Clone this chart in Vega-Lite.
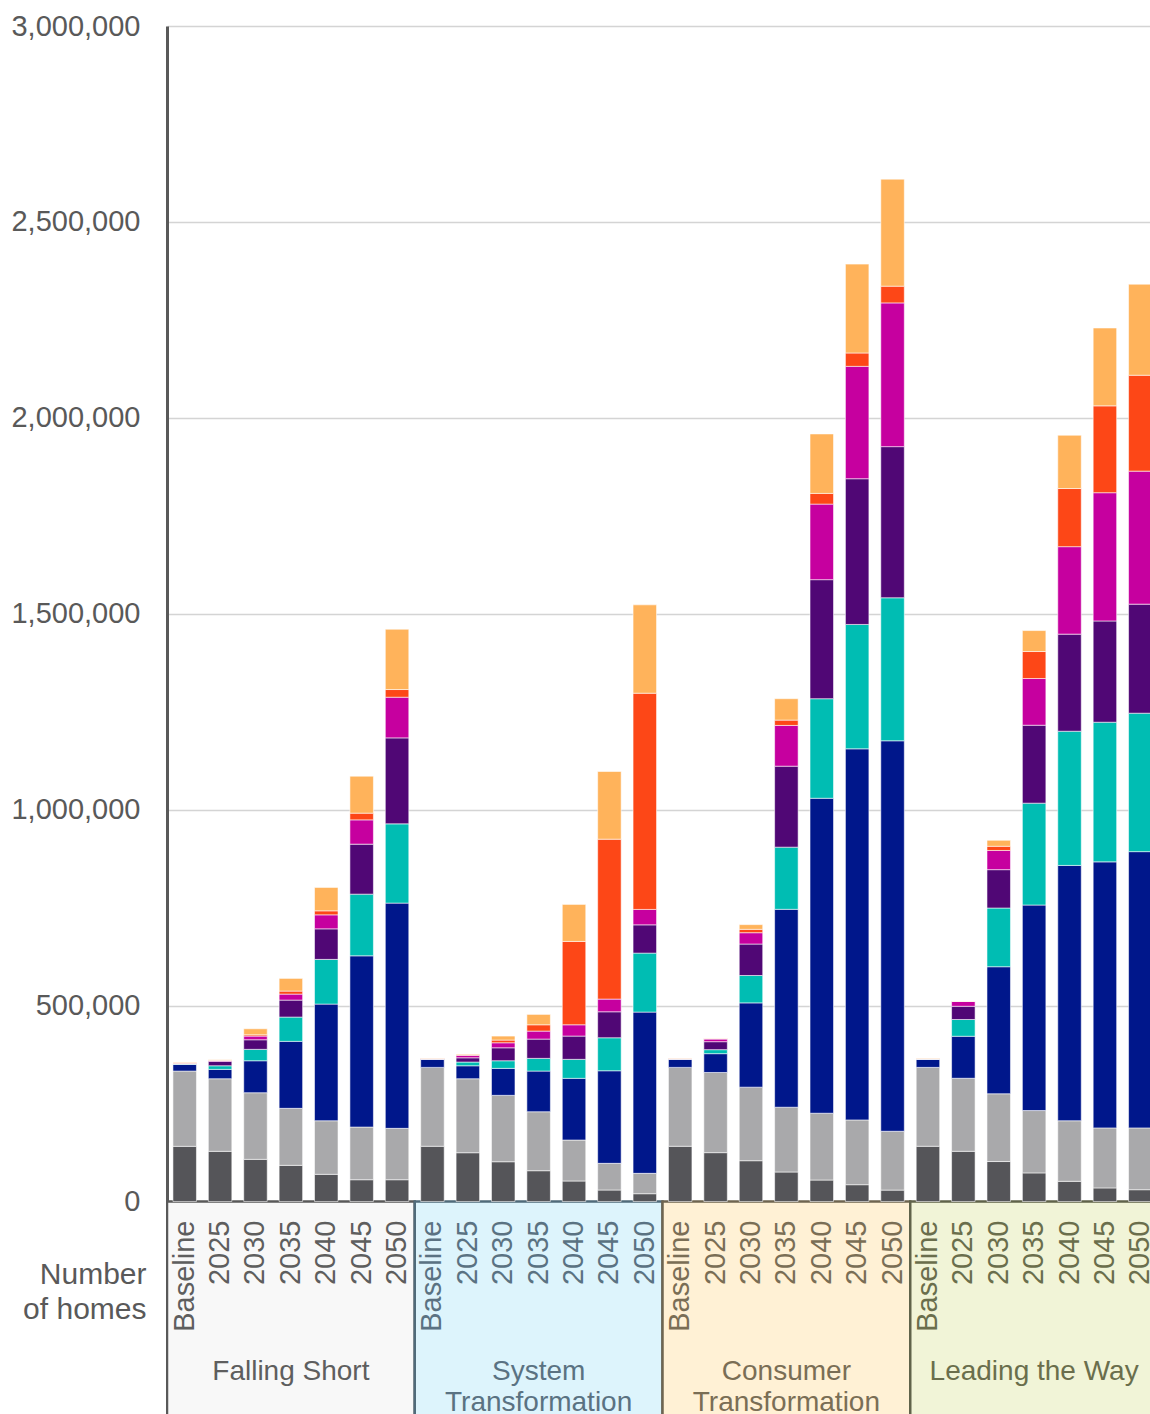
{
  "$schema": "https://vega.github.io/schema/vega-lite/v6.json",
  "width": 983,
  "height": 1388,
  "autosize": "none",
  "padding": {"left": 167, "top": 26, "right": 0, "bottom": 0},
  "background": "white",
  "config": {"view": {"stroke": null}, "font": "Liberation Sans"},
  "resolve": {"scale": {"color": "independent"}},
  "datasets": {
    "bars": [
      {"s": "Falling Short", "y": "Baseline", "t1": 140800, "t2": 192100, "t3": 17100, "t4": 1000, "t5": 1000, "t6": 1000, "t7": 1500, "t8": 1400},
      {"s": "Falling Short", "y": "2025", "t1": 128000, "t2": 185300, "t3": 23900, "t4": 9200, "t5": 11200, "t6": 2000, "t7": 1000, "t8": 1100},
      {"s": "Falling Short", "y": "2030", "t1": 107600, "t2": 170000, "t3": 81600, "t4": 29100, "t5": 24500, "t6": 9400, "t7": 3300, "t8": 15300},
      {"s": "Falling Short", "y": "2035", "t1": 92300, "t2": 145500, "t3": 170900, "t4": 62000, "t5": 43300, "t6": 15300, "t7": 7700, "t8": 32400},
      {"s": "Falling Short", "y": "2040", "t1": 69400, "t2": 136700, "t3": 297700, "t4": 114100, "t5": 78000, "t6": 35700, "t7": 10200, "t8": 59700},
      {"s": "Falling Short", "y": "2045", "t1": 55600, "t2": 134400, "t3": 437000, "t4": 157400, "t5": 127600, "t6": 62000, "t7": 17100, "t8": 94400},
      {"s": "Falling Short", "y": "2050", "t1": 55600, "t2": 131100, "t3": 574800, "t4": 202300, "t5": 219400, "t6": 103800, "t7": 19600, "t8": 153900},
      {"s": "System Transformation", "y": "Baseline", "t1": 141000, "t2": 201300, "t3": 20500, "t4": 500, "t5": 500, "t6": 500, "t7": 1000, "t8": 1000},
      {"s": "System Transformation", "y": "2025", "t1": 124500, "t2": 188800, "t3": 33100, "t4": 9500, "t5": 10900, "t6": 6200, "t7": 1500, "t8": 1800},
      {"s": "System Transformation", "y": "2030", "t1": 101500, "t2": 169400, "t3": 68900, "t4": 19400, "t5": 33100, "t6": 12800, "t7": 6900, "t8": 10200},
      {"s": "System Transformation", "y": "2035", "t1": 78600, "t2": 150500, "t3": 103800, "t4": 32400, "t5": 49200, "t6": 20400, "t7": 16100, "t8": 26500},
      {"s": "System Transformation", "y": "2040", "t1": 52300, "t2": 104600, "t3": 157400, "t4": 48500, "t5": 59400, "t6": 28800, "t7": 212800, "t8": 94400},
      {"s": "System Transformation", "y": "2045", "t1": 29300, "t2": 68100, "t3": 236300, "t4": 84200, "t5": 66300, "t6": 32400, "t7": 408100, "t8": 172700},
      {"s": "System Transformation", "y": "2050", "t1": 19900, "t2": 52000, "t3": 411500, "t4": 150500, "t5": 72200, "t6": 39300, "t7": 551800, "t8": 225500},
      {"s": "Consumer Transformation", "y": "Baseline", "t1": 141000, "t2": 201300, "t3": 20500, "t4": 500, "t5": 500, "t6": 500, "t7": 1000, "t8": 1000},
      {"s": "Consumer Transformation", "y": "2025", "t1": 124700, "t2": 204600, "t3": 48000, "t4": 10200, "t5": 20400, "t6": 6900, "t7": 800, "t8": 800},
      {"s": "Consumer Transformation", "y": "2030", "t1": 104100, "t2": 187700, "t3": 215100, "t4": 69900, "t5": 80300, "t6": 28900, "t7": 8600, "t8": 12000},
      {"s": "Consumer Transformation", "y": "2035", "t1": 75300, "t2": 165300, "t3": 505100, "t4": 158600, "t5": 206700, "t6": 104000, "t7": 13600, "t8": 54600},
      {"s": "Consumer Transformation", "y": "2040", "t1": 54800, "t2": 170500, "t3": 803800, "t4": 254100, "t5": 303800, "t6": 192800, "t7": 27300, "t8": 151800},
      {"s": "Consumer Transformation", "y": "2045", "t1": 42900, "t2": 165300, "t3": 947100, "t4": 317400, "t5": 371900, "t6": 286800, "t7": 34100, "t8": 226800},
      {"s": "Consumer Transformation", "y": "2050", "t1": 29100, "t2": 150200, "t3": 996500, "t4": 365000, "t5": 385700, "t6": 366800, "t7": 42700, "t8": 273200},
      {"s": "Leading the Way", "y": "Baseline", "t1": 141000, "t2": 201300, "t3": 20500, "t4": 500, "t5": 500, "t6": 500, "t7": 1000, "t8": 1000},
      {"s": "Leading the Way", "y": "2025", "t1": 128100, "t2": 186400, "t3": 107200, "t4": 42800, "t5": 33700, "t6": 12300, "t7": 500, "t8": 500},
      {"s": "Leading the Way", "y": "2030", "t1": 102000, "t2": 173000, "t3": 324200, "t4": 149800, "t5": 97900, "t6": 49000, "t7": 10700, "t8": 15300},
      {"s": "Leading the Way", "y": "2035", "t1": 73000, "t2": 159100, "t3": 524500, "t4": 260000, "t5": 198900, "t6": 119200, "t7": 68900, "t8": 53500},
      {"s": "Leading the Way", "y": "2040", "t1": 51500, "t2": 154600, "t3": 651600, "t4": 342500, "t5": 247800, "t6": 223200, "t7": 148400, "t8": 136000},
      {"s": "Leading the Way", "y": "2045", "t1": 34700, "t2": 153100, "t3": 679000, "t4": 356400, "t5": 258400, "t6": 327300, "t7": 221700, "t8": 198700},
      {"s": "Leading the Way", "y": "2050", "t1": 30100, "t2": 157700, "t3": 705100, "t4": 353300, "t5": 278300, "t6": 339500, "t7": 244700, "t8": 232400}
    ],
    "panels": [
      {"s": "Falling Short", "title": "Falling Short"},
      {"s": "System Transformation", "title": "System\nTransformation"},
      {"s": "Consumer Transformation", "title": "Consumer\nTransformation"},
      {"s": "Leading the Way", "title": "Leading the Way"}
    ]
  },
  "layer": [
    {
      "data": {"name": "panels"},
      "mark": {"type": "rect", "clip": true, "strokeWidth": 2.5},
      "encoding": {
        "x": {"field": "s", "type": "nominal", "axis": null},
        "y": {"datum": 0, "type": "quantitative"},
        "y2": {"datum": -800000},
        "fill": {
          "field": "s", "type": "nominal", "legend": null,
          "scale": {
            "domain": ["Falling Short", "System Transformation", "Consumer Transformation", "Leading the Way"],
            "range": ["#f8f8f8", "#ddf4fc", "#fff1d5", "#f1f4d7"]
          }
        },
        "stroke": {
          "field": "s", "type": "nominal", "legend": null,
          "scale": {
            "domain": ["Falling Short", "System Transformation", "Consumer Transformation", "Leading the Way"],
            "range": ["#595959", "#506b7a", "#6f6550", "#60634a"]
          }
        }
      }
    },
    {
      "data": {"name": "bars"},
      "transform": [{"fold": ["t1", "t2", "t3", "t4", "t5", "t6", "t7", "t8"], "as": ["k", "v"]}],
      "mark": {"type": "bar", "clip": true, "stroke": "white", "strokeWidth": 0.8, "strokeOpacity": 0.7},
      "encoding": {
        "x": {
          "field": "s", "type": "nominal", "axis": null,
          "scale": {
            "domain": ["Falling Short", "System Transformation", "Consumer Transformation", "Leading the Way"],
            "range": [0, 991], "paddingInner": 0, "paddingOuter": 0
          }
        },
        "xOffset": {
          "field": "y", "type": "nominal",
          "scale": {"domain": ["Baseline", "2025", "2030", "2035", "2040", "2045", "2050"], "paddingInner": 0.336, "paddingOuter": 0.168}
        },
        "y": {
          "field": "v", "type": "quantitative", "stack": "zero",
          "scale": {"domain": [-542300, 3000000], "nice": false, "zero": false},
          "axis": {
            "values": [0, 500000, 1000000, 1500000, 2000000, 2500000, 3000000],
            "format": ",d",
            "ticks": false,
            "labelPadding": 27,
            "labelFontSize": 29,
            "labelColor": "#595959",
            "labelFont": "Liberation Sans",
            "grid": true,
            "gridColor": "#d4d4d4",
            "gridWidth": 1.5,
            "domainColor": "#595959",
            "domainWidth": 3,
            "zindex": 0,
            "title": ["Number", "of homes"],
            "titleAngle": 0,
            "titleAlign": "right",
            "titleBaseline": "alphabetic",
            "titleX": -21,
            "titleY": 1257,
            "titleFontSize": 30,
            "titleFontWeight": "normal",
            "titleColor": "#595959",
            "titleFont": "Liberation Sans",
            "titleLineHeight": 35
          }
        },
        "color": {
          "field": "k", "type": "nominal", "legend": null,
          "scale": {
            "domain": ["t1", "t2", "t3", "t4", "t5", "t6", "t7", "t8"],
            "range": ["#555559", "#a9a9ab", "#00178b", "#00bdb3", "#500775", "#c6009f", "#fd4717", "#ffb35b"]
          }
        },
        "order": {"field": "k", "type": "nominal", "sort": "ascending"}
      }
    },
    {
      "data": {"name": "bars"},
      "mark": {"type": "text", "angle": 270, "align": "right", "baseline": "middle", "dx": -19, "fontSize": 29, "font": "Liberation Sans"},
      "encoding": {
        "x": {"field": "s", "type": "nominal", "axis": null},
        "xOffset": {"field": "y", "type": "nominal"},
        "y": {"datum": 0, "type": "quantitative"},
        "text": {"field": "y", "type": "nominal"},
        "color": {
          "field": "s", "type": "nominal", "legend": null,
          "scale": {
            "domain": ["Falling Short", "System Transformation", "Consumer Transformation", "Leading the Way"],
            "range": ["#5e5e5e", "#5a7282", "#7a6e55", "#6a6e4c"]
          }
        }
      }
    },
    {
      "data": {"name": "panels"},
      "mark": {"type": "text", "align": "center", "baseline": "alphabetic", "lineBreak": "\n", "lineHeight": 31, "fontSize": 28, "font": "Liberation Sans"},
      "encoding": {
        "x": {"field": "s", "type": "nominal", "axis": null},
        "y": {"datum": -455000, "type": "quantitative"},
        "text": {"field": "title", "type": "nominal"},
        "color": {
          "field": "s", "type": "nominal", "legend": null,
          "scale": {
            "domain": ["Falling Short", "System Transformation", "Consumer Transformation", "Leading the Way"],
            "range": ["#5e5e5e", "#5a7282", "#7a6e55", "#6a6e4c"]
          }
        }
      }
    }
  ]
}
